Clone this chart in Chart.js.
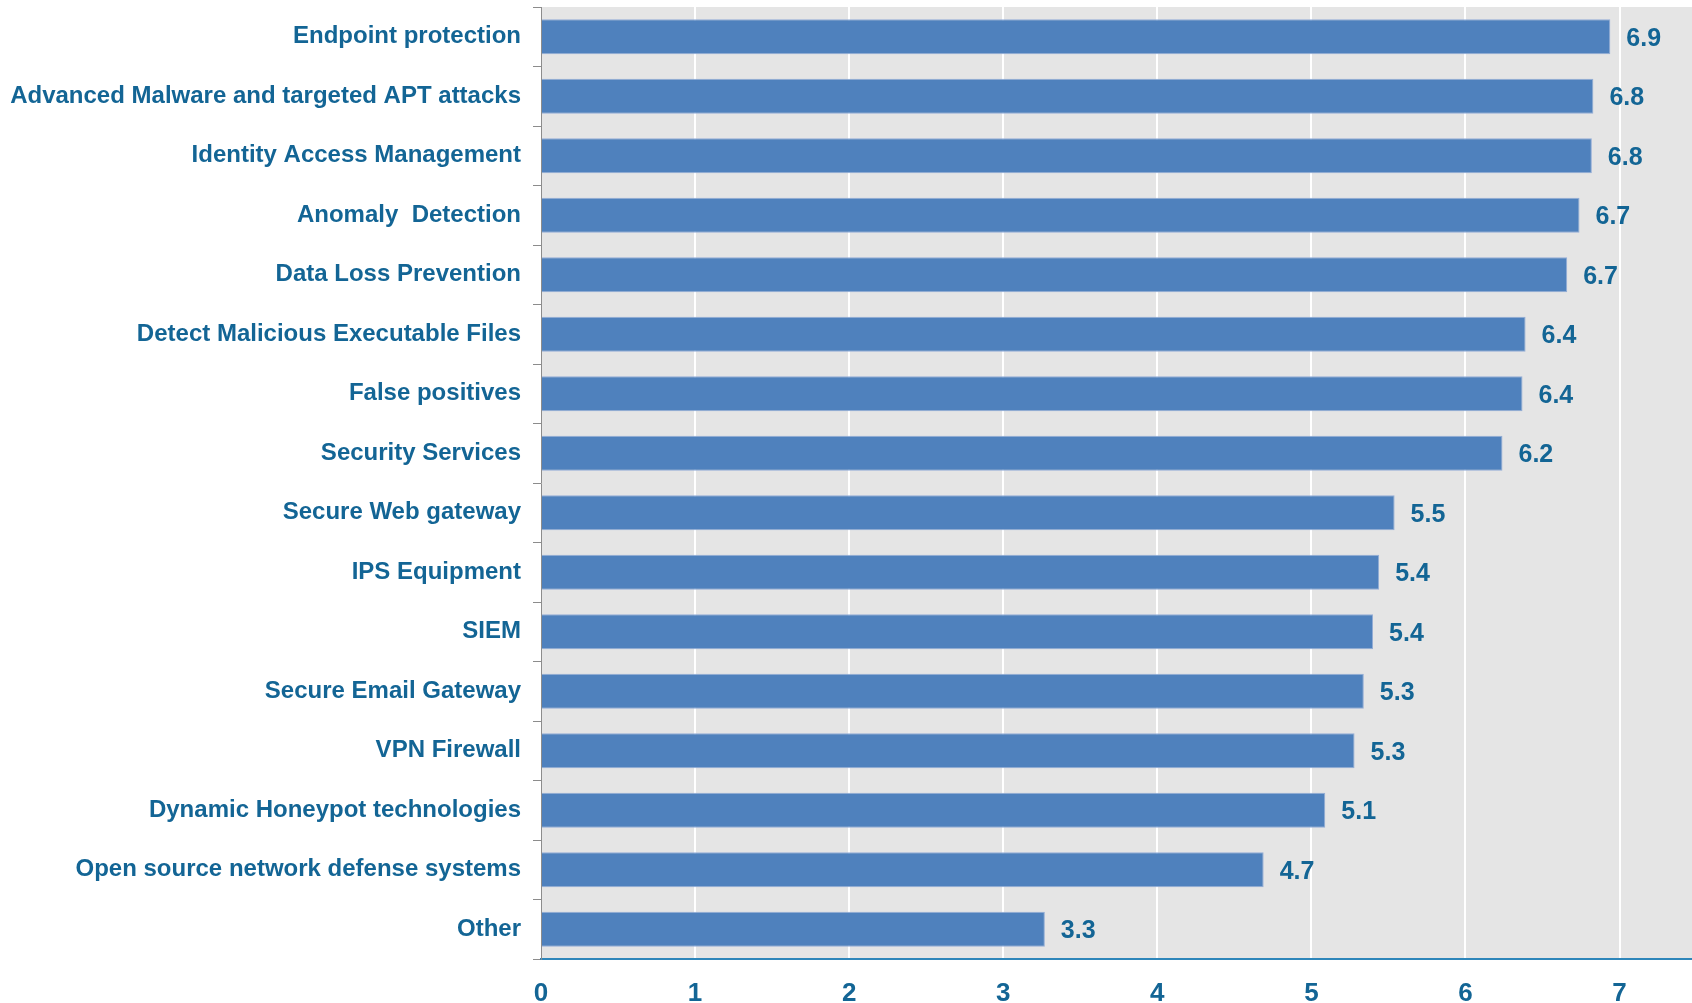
<!DOCTYPE html>
<html>
<head>
<meta charset="utf-8">
<script src="https://cdn.jsdelivr.net/npm/chart.js@4"></script>
<style>
  html, body { margin: 0; padding: 0; background: #fff; }
  #wrap { width: 1692px; height: 1003px; }
</style>
</head>
<body>
<div id="wrap"><canvas id="chart"></canvas></div>
<script>
const categories = [
  'Endpoint protection',
  'Advanced Malware and targeted APT attacks',
  'Identity Access Management',
  'Anomaly  Detection',
  'Data Loss Prevention',
  'Detect Malicious Executable Files',
  'False positives',
  'Security Services',
  'Secure Web gateway',
  'IPS Equipment',
  'SIEM',
  'Secure Email Gateway',
  'VPN Firewall',
  'Dynamic Honeypot technologies',
  'Open source network defense systems',
  'Other',
]
const values = [6.94, 6.83, 6.82, 6.74, 6.66, 6.39, 6.37, 6.24, 5.54, 5.44, 5.4, 5.34, 5.28, 5.09, 4.69, 3.27]
const xTicks = [0, 1, 2, 3, 4, 5, 6, 7]

const textBlue = '#136595'
const fontFamily = '"Liberation Sans", Arial, sans-serif'

// grey plot background
const plotBackground = {
  id: 'plotBackground',
  beforeDraw(chart) {
    const { ctx, chartArea } = chart
    ctx.save()
    ctx.fillStyle = '#e5e5e5'
    ctx.fillRect(chartArea.left, chartArea.top, chartArea.right - chartArea.left, chartArea.bottom - chartArea.top)
    ctx.restore()
  },
}

// value labels at the end of each bar
const valueLabels = {
  id: 'valueLabels',
  afterDatasetsDraw(chart) {
    const { ctx } = chart
    const meta = chart.getDatasetMeta(0)
    ctx.save()
    ctx.fillStyle = textBlue
    ctx.font = 'bold 25px ' + fontFamily
    ctx.textAlign = 'left'
    ctx.textBaseline = 'middle'
    meta.data.forEach((bar, i) => {
      ctx.fillText(values[i].toFixed(1), bar.x + 16, bar.y + 2)
    })
    ctx.restore()
  },
}

new Chart(document.getElementById('chart'), {
  type: 'bar',
  data: {
    labels: categories,
    datasets: [{
      data: values,
      backgroundColor: '#4f81bd',
      borderColor: '#93add6',
      borderWidth: 1,
      categoryPercentage: 0.59,
      barPercentage: 1,
    }],
  },
  options: {
    indexAxis: 'y',
    responsive: true,
    maintainAspectRatio: false,
    animation: false,
    layout: { padding: { top: 7, right: 0, left: 0, bottom: 0 } },
    plugins: {
      legend: { display: false },
      tooltip: { enabled: false },
    },
    scales: {
      x: {
        min: 0,
        max: 7.47,
        afterBuildTicks(scale) {
          scale.ticks = xTicks.map(v => ({ value: v }))
        },
        afterFit(scale) {
          scale.height = 44
          scale.paddingLeft = 0
          scale.paddingRight = 0
        },
        grid: {
          color: '#ffffff',
          lineWidth: 2,
          drawTicks: false,
        },
        border: { color: '#2e86ba', width: 2 },
        ticks: {
          color: textBlue,
          font: { family: fontFamily, size: 26, weight: 'bold' },
          padding: 19,
        },
      },
      y: {
        afterFit(scale) {
          scale.width = 541
          scale.paddingTop = 0
          scale.paddingBottom = 0
        },
        grid: {
          offset: true,
          drawOnChartArea: false,
          drawTicks: true,
          tickLength: 8,
          color: '#8c8c8c',
        },
        border: { color: '#8c8c8c', width: 1 },
        ticks: {
          color: textBlue,
          font: { family: fontFamily, size: 24, weight: 'bold' },
          padding: 12,
        },
      },
    },
  },
  plugins: [plotBackground, valueLabels],
})
</script>
</body>
</html>
